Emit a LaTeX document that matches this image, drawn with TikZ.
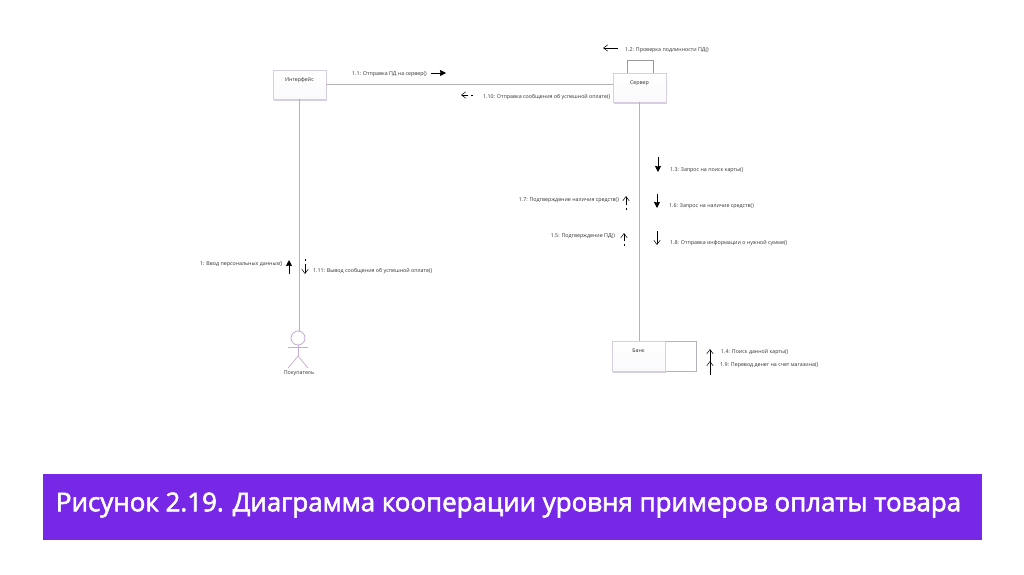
\documentclass[tikz,border=0pt]{standalone}
\usepackage{fontspec}
\setmainfont{Open Sans}
\newfontfamily\titlefont[RawFeature={embolden=2.2}]{Open Sans}
\usetikzlibrary{shadows,arrows.meta}
\definecolor{banner}{HTML}{7727E6}
\definecolor{linegray}{HTML}{B4B2BC}
\definecolor{boxedge}{HTML}{D8CEE2}
\definecolor{txt}{HTML}{303030}
\definecolor{actorc}{HTML}{C4AAD6}
\tikzset{
  objbox/.style={draw=boxedge,line width=.8pt,shade,shading=axis,top color=white,bottom color=white!88!boxedge,minimum width=#1,minimum height=29pt,inner sep=0pt,
    general shadow={fill=boxedge,shadow xshift=1.3pt,shadow yshift=-1.5pt}},
  objbox/.default=53pt,
  toplabel/.style={font=\fontsize{5.3pt}{6pt}\selectfont,text=txt,anchor=north,inner sep=0pt,yshift=-7.5pt},
  lifeline/.style={draw=linegray,line width=1.2pt},
  msglabel/.style={font=\fontsize{5.3pt}{6pt}\selectfont,text=txt,inner sep=0pt,yshift=-1.2pt},
  solidtip/.style={-{Stealth[length=6pt,width=6pt,inset=.5pt]},black,line width=.9pt},
  opentip/.style={-{Straight Barb[length=4.5pt,width=6.5pt]},black,line width=.5pt},
  dashtip/.style={-{Straight Barb[length=4.5pt,width=6.5pt]},black,line width=.5pt,dash pattern=on 2pt off 3pt on 20pt off 0pt},
  actorline/.style={draw=actorc,line width=.7pt},
  bannerbox/.style={fill=banner,minimum width=939pt,minimum height=66pt,inner sep=0pt},
  bannertext/.style={inner sep=0pt,text=white,font=\titlefont\fontsize{25.9pt}{30pt}\selectfont},
}
\begin{document}
\begin{tikzpicture}[x=1pt,y=-1pt]
\useasboundingbox (0,0) rectangle (1024,574);
% objects
\node[objbox=53pt,label={[toplabel]north:Интерфейс}] (iface) at (299.5,84.5) {};
\node[objbox=53pt,label={[toplabel]north:Сервер}] (srv) at (639.5,87.5) {};
\node[draw=linegray,line width=.7pt,minimum width=31pt,minimum height=30pt,inner sep=0pt] (bankx) at (680.5,356) {};
\node[objbox=53pt,minimum height=30pt,label={[toplabel]north:Банк}] (bank) at (638.5,356) {};
% actor
\node[draw=actorc,line width=.8pt,circle,minimum size=14pt,inner sep=0pt] (head) at (298,338) {};
\coordinate (hip) at (298,356);
\coordinate (armL) at (288,347.5);
\coordinate (armR) at (308,347.5);
\coordinate (legL) at (288,368);
\coordinate (legR) at (308,368);
\draw[actorline] (head.south) -- (hip);
\draw[actorline] (armL) -- (armR);
\draw[actorline] (legL) -- (hip) -- (legR);
\node[msglabel] (buyer) at (299,372.5) {Покупатель};
% links
\draw[lifeline] (iface.east) -- (iface.east -| srv.west);
\draw[lifeline] (iface.south) -- (iface.south |- head.north);
\draw[lifeline] (srv.south) -- (srv.south |- bank.north);
\coordinate (loopL) at (627,60);
\coordinate (loopR) at (653,60);
\draw[draw=gray!80,line width=.7pt] (loopL |- srv.north) -- (loopL) -- (loopR) -- (loopR |- srv.north);
% message labels
\node[msglabel,anchor=west] (m11) at (352,73) {1.1: Отправка ПД на сервер()};
\node[msglabel,anchor=west] (m12) at (625,49) {1.2: Проверка подлинности ПД()};
\node[msglabel,anchor=west] (m110) at (483,95.5) {1.10: Отправка сообщения об успешной оплате()};
\node[msglabel,anchor=west] (m13) at (670,169) {1.3: Запрос на поиск карты()};
\node[msglabel,anchor=west] (m16) at (669,205) {1.6: Запрос на наличие средств()};
\node[msglabel,anchor=west] (m18) at (670,242) {1.8: Отправка информации о нужной сумме()};
\node[msglabel,anchor=east] (m17) at (619,199) {1.7: Подтверждение наличия средств()};
\node[msglabel,anchor=east] (m15) at (615,235) {1.5: Подтверждение ПД()};
\node[msglabel,anchor=west] (m1) at (200,263) {1: Ввод персональных данных()};
\node[msglabel,anchor=west] (m111) at (313,270) {1.11: Вывод сообщения об успешной оплате()};
\node[msglabel,anchor=west] (m14) at (721,351) {1.4: Поиск данной карты()};
\node[msglabel,anchor=west] (m19) at (720,364) {1.9: Перевод денег на счет магазина()};
% message arrows
\coordinate (a11s) at (431,73); \coordinate (a11e) at (446,73);
\draw[solidtip] (a11s) -- (a11e);
\coordinate (a12s) at (618,48); \coordinate (a12e) at (603,48);
\draw[opentip] (a12s) -- (a12e);
\coordinate (a110s) at (473,95); \coordinate (a110e) at (461,95);
\draw[dashtip] (a110s) -- (a110e);
\coordinate (a13s) at (658,157); \coordinate (a13e) at (658,172);
\draw[solidtip] (a13s) -- (a13e);
\coordinate (a16s) at (657,194); \coordinate (a16e) at (657,208);
\draw[solidtip] (a16s) -- (a16e);
\coordinate (a18s) at (657,231); \coordinate (a18e) at (657,245);
\draw[opentip] (a18s) -- (a18e);
\coordinate (a17s) at (626,210); \coordinate (a17e) at (626,196);
\draw[dashtip] (a17s) -- (a17e);
\coordinate (a15s) at (624,246); \coordinate (a15e) at (624,233);
\draw[dashtip] (a15s) -- (a15e);
\coordinate (a1s) at (289,274); \coordinate (a1e) at (289,260);
\draw[solidtip] (a1s) -- (a1e);
\coordinate (a111s) at (305,259); \coordinate (a111e) at (305,274);
\draw[dashtip] (a111s) -- (a111e);
\coordinate (a14s) at (710,362); \coordinate (a14e) at (710,349);
\draw[opentip] (a14s) -- (a14e);
\coordinate (a19s) at (710,375); \coordinate (a19e) at (710,361);
\draw[opentip] (a19s) -- (a19e);
% banner
\node[bannerbox] (title) at (512.5,506.5) {};
\node[bannertext] (titletext) at (508.5,505) {Рисунок 2.19. Диаграмма кооперации уровня примеров оплаты товара};
\end{tikzpicture}
\end{document}
